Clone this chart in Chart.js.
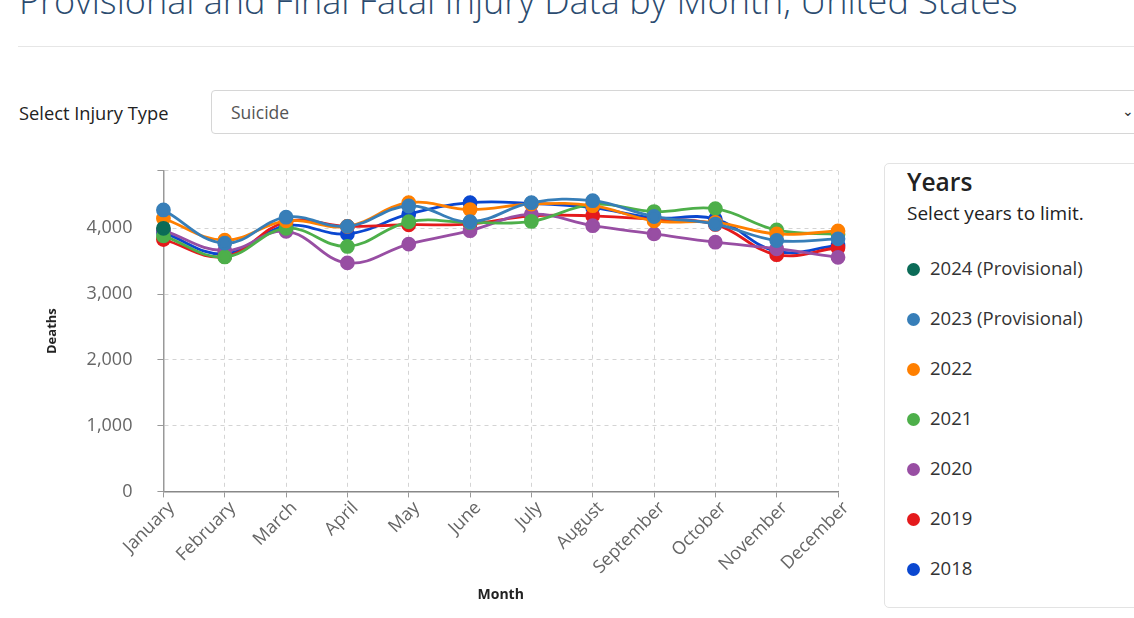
<!DOCTYPE html>
<html>
<head>
<meta charset="utf-8">
<script src="https://cdn.jsdelivr.net/npm/chart.js@4.4.1/dist/chart.umd.min.js"></script>
<style>
    body { margin: 0; width: 1134px; height: 618px; overflow: hidden; background: #fff; font-family: 'Open Sans', sans-serif; position: relative; }
    h1 { position: absolute; left: 19px; top: -24px; margin: 0; font-family: 'Open Sans', sans-serif; font-weight: 300; font-size: 36px; color: #2b4b6f; white-space: nowrap; }
    .rule { position: absolute; left: 18px; right: 0; top: 46px; border-top: 1px solid #e6e6e6; }
    .selLabel { position: absolute; left: 19px; top: 100px; font-size: 18.3px; color: #222; }
    .selBox { position: absolute; left: 211px; top: 90px; width: 940px; height: 44px; border: 1px solid #d6d6d6; border-radius: 4px; box-sizing: border-box; }
    .selBox span { position: absolute; left: 19px; top: 9px; font-size: 17.5px; color: #555; }
    .selBox i { position: absolute; left: 910px; top: 10px; font-style: normal; font-size: 14px; color: #333; }
    #chartWrap { position: absolute; left: 30px; top: 135px; width: 840px; height: 485px; }
    .legendBox { position: absolute; left: 884px; top: 163px; width: 270px; height: 445px; border: 1px solid #e3e3e3; border-radius: 5px; box-sizing: border-box; }
    .legendBox h3 { position: absolute; left: 22px; top: 1px; margin: 0; font-family: 'Open Sans', sans-serif; font-weight: 600; font-size: 24.5px; color: #222; }
    .legendBox p { position: absolute; left: 22px; top: 36px; margin: 0; font-size: 19px; color: #222; white-space: nowrap; }
    .item { position: absolute; left: 22px; font-size: 18.5px; color: #333; white-space: nowrap; }
    .item b { display: inline-block; width: 13px; height: 13px; border-radius: 50%; margin-right: 10px; vertical-align: -1px; }
</style>
</head>
<body>
<h1>Provisional and Final Fatal Injury Data by Month, United States</h1>
<div class="rule"></div>
<div class="selLabel">Select Injury Type</div>
<div class="selBox"><span>Suicide</span><i>&#8964;</i></div>
<div id="chartWrap"><canvas id="monthChart"></canvas></div>
<div class="legendBox" id="legendBox">
    <h3>Years</h3>
    <p>Select years to limit.</p>
</div>
<script>
// Monthly suicide deaths
const months = ['January', 'February', 'March', 'April', 'May', 'June', 'July', 'August', 'September', 'October', 'November', 'December'];
const years = ['2024 (Provisional)', '2023 (Provisional)', '2022', '2021', '2020', '2019', '2018'];
const yearColors = ['#0b6b57', '#377eb8', '#ff7f00', '#4daf4a', '#984ea3', '#e41a1c', '#0a47d0'];

const deaths2024 = [4000, null, null, null, null, null, null, null, null, null, null, null];
const deaths2023 = [4280, 3775, 4170, 4030, 4340, 4100, 4390, 4420, 4180, 4065, 3815, 3840];
const deaths2022 = [4150, 3820, 4115, 4030, 4390, 4285, 4370, 4345, 4115, 4090, 3915, 3960];
const deaths2021 = [3885, 3565, 4000, 3725, 4100, 4090, 4105, 4365, 4255, 4300, 3975, 3910];
const deaths2020 = [3970, 3660, 3955, 3475, 3760, 3965, 4215, 4040, 3915, 3790, 3690, 3560];
const deaths2019 = [3830, 3570, 4100, 4030, 4055, 4065, 4190, 4190, 4135, 4060, 3600, 3705];
const deaths2018 = [3935, 3610, 4040, 3915, 4215, 4390, 4380, 4315, 4160, 4140, 3650, 3740];
const yearData = [deaths2024, deaths2023, deaths2022, deaths2021, deaths2020, deaths2019, deaths2018];

const yTicks = [0, 1000, 2000, 3000, 4000];
const yMax = 4875;

// Build the right-hand year list
const legendBox = document.getElementById('legendBox');
years.forEach((yr, i) => {
    const div = document.createElement('div');
    div.className = 'item';
    div.style.top = (91 + i * 50) + 'px';
    div.innerHTML = `<b style="background:${yearColors[i]}"></b>${yr}`;
    legendBox.appendChild(div);
});

// first dataset ends up drawn on top
const datasets = years.map((yr, i) => ({
    label: yr,
    data: yearData[i],
    borderColor: yearColors[i],
    backgroundColor: yearColors[i],
    borderWidth: 2.8,
    pointRadius: 6,
    pointHoverRadius: 6,
    tension: 0.4,
    fill: false
}));

new Chart(document.getElementById('monthChart').getContext('2d'), {
    type: 'line',
    data: { labels: months, datasets: datasets },
    options: {
        responsive: true,
        maintainAspectRatio: false,
        animation: false,
        layout: { padding: { top: 14, right: 32, bottom: 13, left: 10 } },
        plugins: { legend: { display: false }, tooltip: { enabled: false } },
        scales: {
            x: {
                grid: { color: '#d4d4d4', tickBorderDash: [], tickLength: 6, tickColor: '#999' },
                border: { color: '#888', width: 1.5, dash: [4, 4] },
                ticks: { color: '#666', font: { family: 'Open Sans', size: 18 }, maxRotation: 45, minRotation: 45, autoSkip: false, padding: 0, labelOffset: 8 },
                title: { display: true, text: 'Month', color: '#222', font: { family: 'Open Sans', size: 14, weight: 'bold' }, padding: { top: 8 } }
            },
            y: {
                min: 0,
                max: yMax,
                afterBuildTicks: axis => {
                    axis.ticks = yTicks.map(v => ({ value: v })).concat([{ value: yMax }]);
                },
                grid: { color: '#d4d4d4', tickBorderDash: [], tickLength: 6, tickColor: '#999' },
                border: { color: '#999', width: 1.5, dash: [4, 4] },
                ticks: {
                    color: '#666',
                    font: { family: 'Open Sans', size: 18 },
                    padding: 25,
                    callback: v => yTicks.includes(v) ? v.toLocaleString('en-US') : ''
                },
                title: { display: true, text: 'Deaths', color: '#222', font: { family: 'Open Sans', size: 13, weight: 'bold' }, padding: { bottom: 2 } }
            }
        }
    }
});
</script>
</body>
</html>
